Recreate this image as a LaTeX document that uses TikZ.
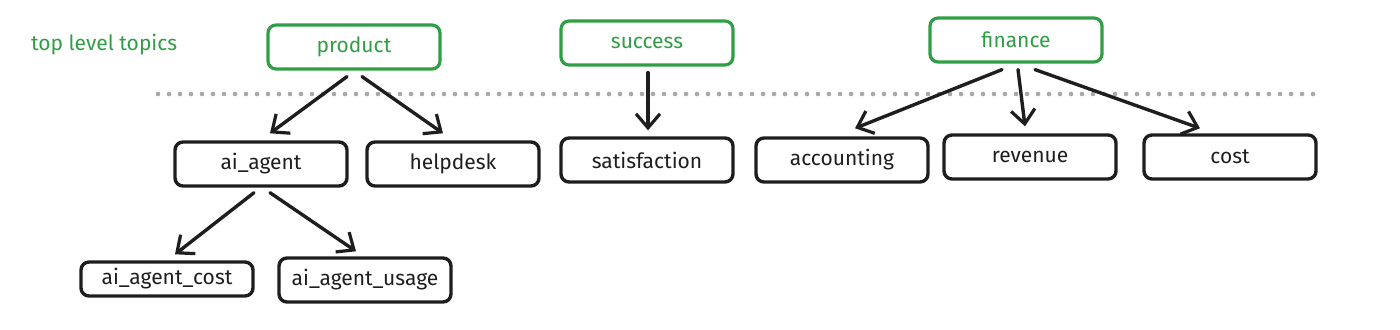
\documentclass[tikz,border=0pt]{standalone}
\usepackage{fontspec}
\setmainfont{Fira Sans}
\usetikzlibrary{arrows.meta,calc}
\definecolor{topicgreen}{HTML}{2F9E44}
\definecolor{inkblack}{HTML}{1E1E1E}
\definecolor{dotgray}{HTML}{A8A8A8}

\begin{document}
\begin{tikzpicture}[x=0.5pt,y=-0.5pt,
  >={Straight Barb[length=7pt,width=12pt,line width=1.6pt]},
  topic/.style={draw=topicgreen,text=topicgreen,line width=1.6pt,rounded corners=4pt,
              minimum width=86pt,minimum height=22pt,inner sep=0pt,
              font=\fontsize{10.5}{12}\selectfont},
  sub/.style={draw=inkblack,text=inkblack,line width=1.7pt,rounded corners=4pt,
              minimum width=86pt,minimum height=22pt,inner sep=0pt,
              font=\fontsize{10.5}{12}\selectfont},
  link/.style={->,draw=inkblack,line width=1.7pt,line cap=round}]
  \useasboundingbox (0,0) rectangle (1400,330);
  \node[anchor=west,text=topicgreen,font=\fontsize{10.5}{12}\selectfont] (caption) at (24,45) {top level topics};
  \node[topic] (product) at (354,47) {product};
  \node[topic] (success) at (647,43) {success};
  \node[topic] (finance) at (1016,40) {finance};
  \coordinate (sepL) at (158,94);
  \coordinate (sepR) at (1316,94);
  \draw[dotgray,line width=2.3pt,line cap=round,dash pattern=on 0pt off 5.5pt] (sepL) -- (sepR);
  \node[sub] (aiagent) at (261,164) {ai\_agent};
  \node[sub] (helpdesk) at (453,164) {helpdesk};
  \node[sub] (satisfaction) at (647,160) {satisfaction};
  \node[sub] (accounting) at (842,160) {accounting};
  \node[sub] (revenue) at (1030,157) {revenue};
  \node[sub] (cost) at (1230,157) {cost};
  \node[sub,minimum height=17pt] (aicost) at (167,279) {ai\_agent\_cost};
  \node[sub] (aiusage) at (365,280) {ai\_agent\_usage};
  \draw[link] ($(product.south)+(-7,6)$) -- ($(aiagent.north)+(9,-7)$);
  \draw[link] ($(product.south)+(8,6)$) -- ($(helpdesk.north)+(-10,-7)$);
  \draw[link] ($(success.south)+(1,6)$) -- ($(satisfaction.north)+(1,-6)$);
  \draw[link] ($(finance.south)+(-14,6)$) -- ($(accounting.north)+(13,-8)$);
  \draw[link] ($(finance.south)+(2,6)$) -- ($(revenue.north)+(-5,-7)$);
  \draw[link] ($(finance.south)+(19,6)$) -- ($(cost.north)+(-30,-5)$);
  \draw[link] ($(aiagent.south)+(-7,5)$) -- ($(aicost.north)+(8,-6)$);
  \draw[link] ($(aiagent.south)+(9,5)$) -- ($(aiusage.north)+(-9,-5)$);
\end{tikzpicture}
\end{document}
